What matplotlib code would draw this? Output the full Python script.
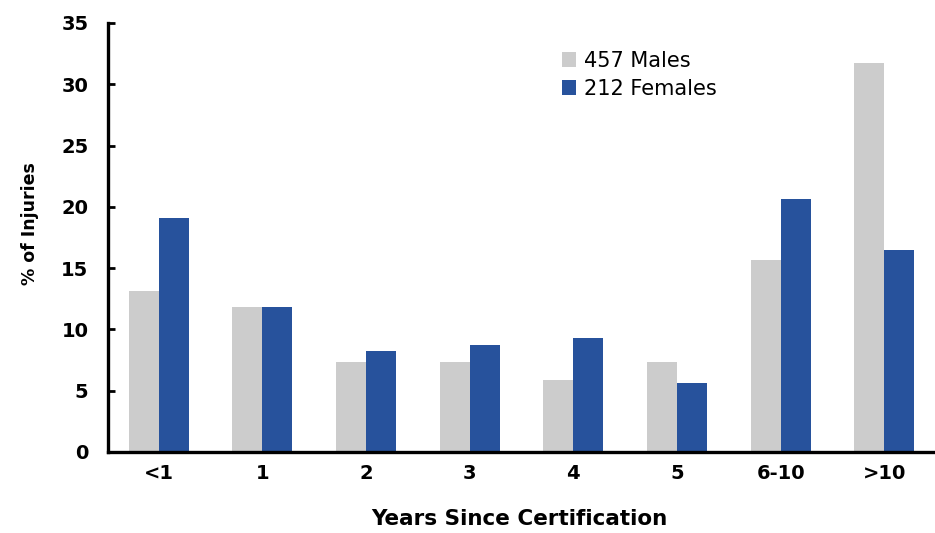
import numpy as np
import matplotlib.pyplot as plt

# years since certification
categories = ["<1", "1", "2", "3", "4", "5", "6-10", ">10"]
males = [13.1, 11.8, 7.3, 7.3, 5.9, 7.3, 15.7, 31.7]
females = [19.1, 11.8, 8.2, 8.7, 9.3, 5.6, 20.6, 16.5]
yticks = [0, 5, 10, 15, 20, 25, 30, 35]

plt.rcParams['font.family'] = ['DejaVu Sans']

fig = plt.figure(figsize=(9.35, 5.33), dpi=100)
ax = fig.add_axes([0.1155, 0.152, 0.8845, 0.805])

x = np.arange(len(categories))
w = 0.29
ax.bar(x - w / 2, males, w, color="#cccccc", label="457 Males")
ax.bar(x + w / 2, females, w, color="#27529c", label="212 Females")

ax.set_xlim(-0.49, len(categories) - 0.51)
ax.set_ylim(0, 35)
ax.set_yticks(yticks)
ax.set_xticks(x)
ax.set_xticklabels(categories)

for s in ["top", "right"]:
    ax.spines[s].set_visible(False)
for s in ["left", "bottom"]:
    ax.spines[s].set_linewidth(2.4)

ax.tick_params(axis="y", direction="in", length=5, width=2, labelsize=14, pad=14)
ax.tick_params(axis="x", length=0, labelsize=14, pad=9)
for lbl in ax.get_xticklabels() + ax.get_yticklabels():
    lbl.set_fontweight("bold")

ax.set_ylabel("% of Injuries", fontsize=12.5, fontweight="bold")
ax.yaxis.set_label_coords(-0.084, 0.532)
ax.set_xlabel("Years Since Certification", fontsize=15.5, fontweight="bold")
ax.xaxis.set_label_coords(0.497, -0.134)

ax.legend(loc="upper left", bbox_to_anchor=(0.526, 0.979), frameon=False, fontsize=15,
          handlelength=0.7, handleheight=0.7, handletextpad=0.35, labelspacing=0.38)

fig.savefig("out.png", dpi=100)
